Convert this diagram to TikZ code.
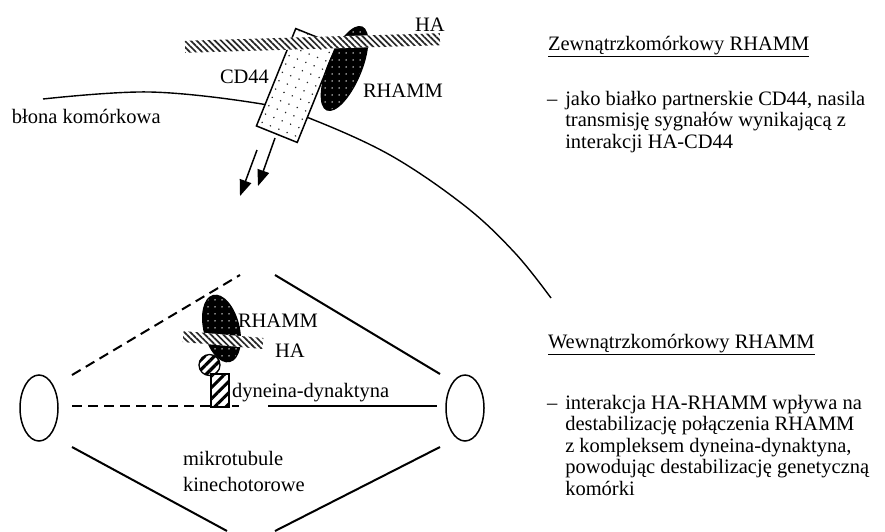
\documentclass[tikz,border=0pt]{standalone}
\usepackage{fontspec}
\setmainfont{Liberation Serif}
\usetikzlibrary{shapes.geometric,patterns.meta,arrows.meta}

\begin{document}
\begin{tikzpicture}[x=1pt,y=-1pt,
  every node/.style={font=\fontsize{20.5}{21.5}\selectfont, inner sep=0pt, outer sep=0pt},
  lbl/.style={anchor=base west},
  membrane/.style={line width=1.4pt},
  spindle/.style={line width=2pt},
  dashedline/.style={spindle, dash pattern=on 10pt off 6pt},
  hatchbar/.style={rectangle, preaction={fill=white},
    pattern={Lines[angle=-45,distance=4.3pt,line width=1.7pt]}, pattern color=black!85},
  cdbox/.style={rectangle, draw, line width=1.5pt, preaction={fill=white},
    pattern={Dots[distance=9pt,radius=0.85pt,angle=-22]}, pattern color=black!85},
  rhamm/.style={ellipse, draw, line width=1.2pt, preaction={fill=black},
    pattern={Dots[distance=6.5pt,radius=0.8pt]}, pattern color=white},
  pole/.style={ellipse, draw, line width=1.5pt, minimum width=38pt, minimum height=66pt},
  ball/.style={circle, draw, line width=1.3pt, minimum size=21pt, preaction={fill=white},
    pattern={Lines[angle=45,distance=7pt,line width=3.3pt]}, pattern color=black},
  dynbox/.style={rectangle, draw, line width=1.3pt, minimum width=18pt, minimum height=33pt,
    preaction={fill=white}, pattern={Lines[angle=45,distance=8pt,line width=3pt]}, pattern color=black},
  signal/.style={line width=1.5pt, -{Triangle[length=16pt,width=12pt]}}
]
\useasboundingbox (0,0) rectangle (885,531);

% ---------- cell membrane ----------
\draw[membrane] plot[smooth, tension=0.6] coordinates
  {(43,99) (150,92) (262,104) (309,118) (390,155) (465,206) (515,253) (551,298)};
\node[lbl] (blona) at (12,123) {błona komórkowa};

% ---------- CD44 / RHAMM / HA at the membrane ----------
\node[cdbox, minimum width=44pt, minimum height=105pt, rotate=-22] (cd44) at (296.5,85.5) {};
\node[rhamm, minimum width=33pt, minimum height=90pt, rotate=-23] (rhammOut) at (344.5,68.5) {};
\node[hatchbar, minimum width=255pt, minimum height=12pt, rotate=1.7] (haOut) at (312.5,43) {};

\node[lbl] (haOutLbl) at (415,31) {HA};
\node[lbl] (cdLbl) at (220,83) {CD44};
\node[lbl] (rhOutLbl) at (363,97) {RHAMM};

% signalling arrows leaving CD44
\coordinate (a1s) at (257,150);
\coordinate (a1e) at (240,196);
\coordinate (a2s) at (275,138);
\coordinate (a2e) at (258,186);
\draw[signal] (a1s) -- (a1e);
\draw[signal] (a2s) -- (a2e);

% ---------- mitotic spindle ----------
\node[pole] (poleL) at (39,408) {};
\node[pole] (poleR) at (465,408) {};

\coordinate (ulS) at (72,375);
\coordinate (ulE) at (240,275);
\coordinate (urS) at (275,275);
\coordinate (urE) at (440,374);
\coordinate (mlS) at (72,406);
\coordinate (mlE) at (239,406);
\coordinate (mrS) at (268,406);
\coordinate (mrE) at (437,406);
\coordinate (llS) at (72,447);
\coordinate (llE) at (227,531);
\coordinate (lrS) at (275,531);
\coordinate (lrE) at (440,447);

\draw[dashedline] (ulS) -- (ulE);
\draw[spindle] (urS) -- (urE);
\draw[dashedline] (mlS) -- (mlE);
\draw[spindle] (mrS) -- (mrE);
\draw[spindle] (llS) -- (llE);
\draw[spindle] (lrS) -- (lrE);

% RHAMM bound to HA and the dynein-dynactin complex
\node[rhamm, minimum width=35pt, minimum height=68pt, rotate=14] (rhammIn) at (221.5,328.5) {};
\node[hatchbar, minimum width=80pt, minimum height=11pt, rotate=-5] (haIn) at (223,340) {};
\node[ball] (linker) at (209.5,365) {};
\node[dynbox] (dyn) at (220,390.5) {};

\node[lbl] (rhInLbl) at (238,327) {RHAMM};
\node[lbl] (haInLbl) at (275,357) {HA};
\node[lbl] (dynLbl) at (232,397) {dyneina-dynaktyna};
\node[lbl] (mtLbl) at (183,465) {\begin{tabular}[t]{@{}l@{}}mikrotubule\\[4.5pt] kinechotorowe\end{tabular}};

% ---------- descriptions ----------
\node[lbl] (extHead) at (548,50) {\underline{Zewnątrzkomórkowy RHAMM}};
\node[lbl] (extText) at (547,105) {\begin{tabular}[t]{@{}l@{\hspace{8pt}}l@{}}
  –& jako białko partnerskie CD44, nasila\\
   & transmisję sygnałów wynikającą z\\
   & interakcji HA-CD44\end{tabular}};

\node[lbl] (intHead) at (548,348) {\underline{Wewnątrzkomórkowy RHAMM}};
\node[lbl] (intText) at (547,409) {\begin{tabular}[t]{@{}l@{\hspace{8pt}}l@{}}
  –& interakcja HA-RHAMM wpływa na\\
   & destabilizację połączenia RHAMM\\
   & z kompleksem dyneina-dynaktyna,\\
   & powodując destabilizację genetyczną\\
   & komórki\end{tabular}};
\end{tikzpicture}
\end{document}
